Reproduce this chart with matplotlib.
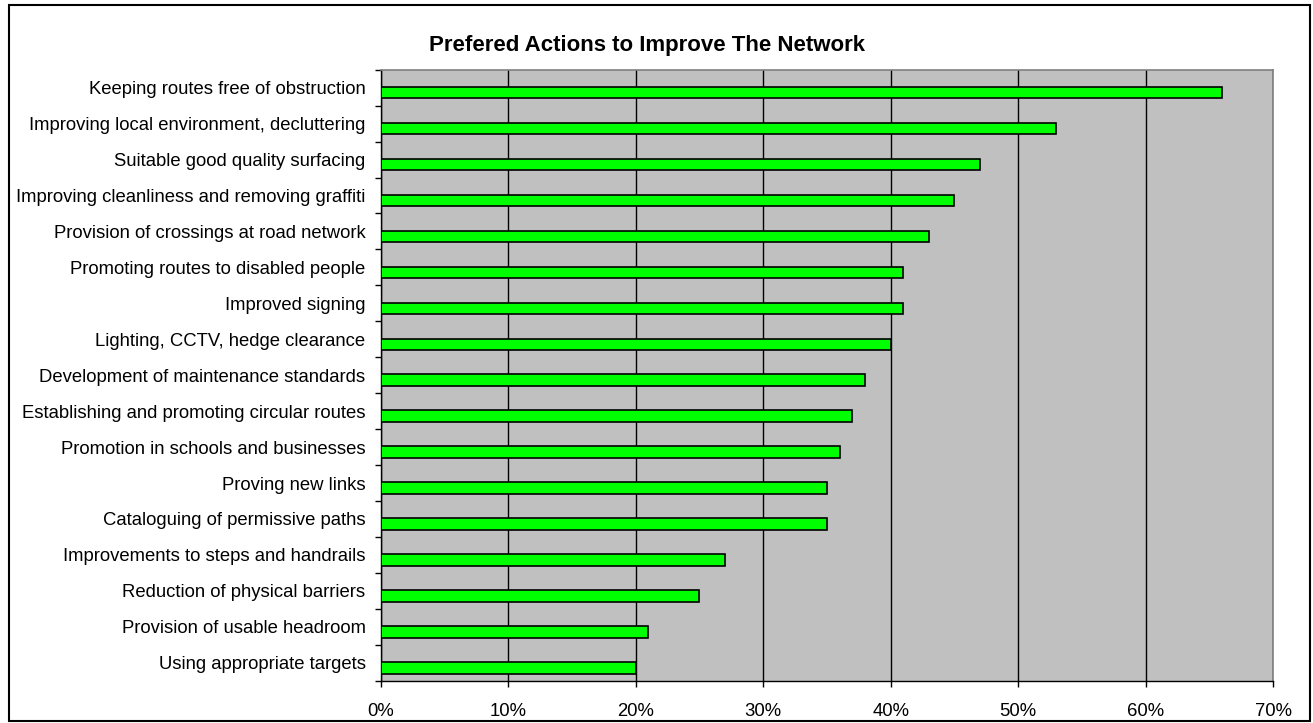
import matplotlib
matplotlib.use("Agg")
import matplotlib.pyplot as plt
from matplotlib.patches import Rectangle
from matplotlib.ticker import FixedLocator, FuncFormatter
import numpy as np

categories = [
    "Keeping routes free of obstruction",
    "Improving local environment, decluttering",
    "Suitable good quality surfacing",
    "Improving cleanliness and removing graffiti",
    "Provision of crossings at road network",
    "Promoting routes to disabled people",
    "Improved signing",
    "Lighting, CCTV, hedge clearance",
    "Development of maintenance standards",
    "Establishing and promoting circular routes",
    "Promotion in schools and businesses",
    "Proving new links",
    "Cataloguing of permissive paths",
    "Improvements to steps and handrails",
    "Reduction of physical barriers",
    "Provision of usable headroom",
    "Using appropriate targets",
]
values = [66, 53, 47, 45, 43, 41, 41, 40, 38, 37, 36, 35, 35, 27, 25, 21, 20]
x_ticks = [0, 10, 20, 30, 40, 50, 60, 70]
title = "Prefered Actions to Improve The Network"

plt.rcParams['font.family'] = ['Liberation Sans', 'DejaVu Sans']

W, H = 1313, 723
fig = plt.figure(figsize=(W / 100, H / 100), dpi=100)
ax = fig.add_axes([380.8 / W, 1 - 680.7 / H, (1273 - 380.8) / W, (680.7 - 69.7) / H])

ax.set_facecolor('#C0C0C0')
n = len(categories)
pos = np.arange(n)
offset = 0.14
ax.barh(pos + offset, values, height=0.32, color='#00FF00', edgecolor='black',
        linewidth=1.2, zorder=3)

ax.set_xlim(0, 70)
ax.set_ylim(n - 0.5, -0.5)

ax.xaxis.set_major_locator(FixedLocator(x_ticks))
ax.xaxis.set_major_formatter(FuncFormatter(lambda v, p: f"{int(round(v))}%"))
ax.grid(axis='x', color='black', linewidth=1.0, zorder=1)
ax.set_axisbelow(True)

ax.set_yticks(pos)
ax.set_yticklabels(categories)
ax.yaxis.set_minor_locator(FixedLocator(np.arange(-0.5, n, 1.0)))
ax.tick_params(axis='y', which='major', length=0, pad=11, labelsize=13.3)
ax.tick_params(axis='y', which='minor', length=4, width=1, color='black', direction='out')
ax.tick_params(axis='x', which='major', length=4, width=1, color='black', direction='out',
               labelsize=13.3, pad=12)

for side in ['top', 'right']:
    ax.spines[side].set_color('#808080')
    ax.spines[side].set_linewidth(1.2)
ax.spines['left'].set_color('black')
ax.spines['bottom'].set_color('black')
ax.spines['left'].set_linewidth(1.0)
ax.spines['bottom'].set_linewidth(1.0)

fig.text(647 / W, 1 - 45 / H, title, ha='center', va='center', fontsize=16,
         fontweight='bold')

fig.patches.append(Rectangle((9 / W, 1 - 721 / H), (1310 - 9) / W, (721 - 5) / H,
                             transform=fig.transFigure, fill=False, edgecolor='black',
                             linewidth=1.5))

fig.savefig('out.png', dpi=100)
